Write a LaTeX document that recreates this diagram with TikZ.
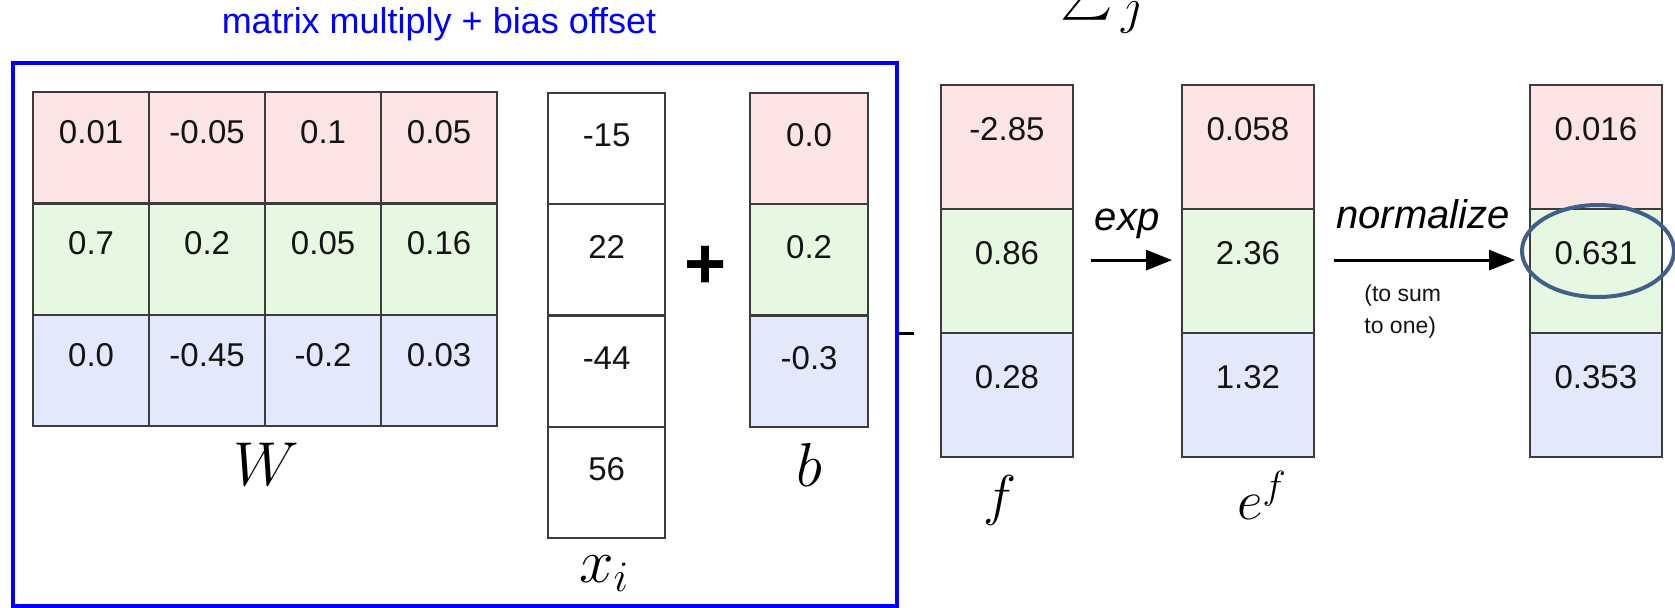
\RequirePackage{fix-cm}
\documentclass[tikz,border=0pt]{standalone}
\usepackage{exscale}
\usepackage{fontspec}
\newfontfamily\arial{Liberation Sans}
\usetikzlibrary{arrows.meta,shapes.geometric}
\definecolor{pinkc}{RGB}{252,228,228}
\definecolor{greenc}{RGB}{230,248,226}
\definecolor{bluec}{RGB}{227,232,250}
\definecolor{gridc}{RGB}{60,60,60}
\definecolor{txtc}{RGB}{20,20,20}
\definecolor{ellc}{RGB}{64,96,138}
\definecolor{boxblue}{RGB}{0,0,255}
\tikzset{
  cellbase/.style={draw=gridc, line width=1.1pt, inner sep=0pt, anchor=north west,
    font=\arial\fontsize{16.5}{16.5}\selectfont, text=txtc},
  wcell/.style={cellbase, minimum width=58pt, text height=25.65pt, text depth=30pt},
  xcell/.style={cellbase, minimum width=58.5pt, text height=26.9pt, text depth=28.7pt},
  bcell/.style={cellbase, minimum width=59pt, text height=26.9pt, text depth=28.7pt},
  rcell/.style={cellbase, minimum width=65.75pt, text height=27.9pt, text depth=34.1pt},
  mlabel/.style={inner sep=0pt, font=\fontsize{31}{31}\selectfont},
  flabel/.style={inner sep=0pt, font=\fontsize{28}{28}\selectfont},
  oplabel/.style={inner sep=0pt, font=\arial\itshape\fontsize{20}{20}\selectfont},
  arr/.style={line width=1.5pt, -{Triangle[length=13pt,width=10pt]}},
}
\begin{document}
\begin{tikzpicture}[x=0.5pt,y=-0.5pt]
\useasboundingbox (0,0) rectangle (1675,607);
\clip (0,0) rectangle (1675,607);
% title and box
\node[inner sep=0pt, text=boxblue, font=\arial\fontsize{18}{18}\selectfont] (title) at (439,24) {matrix multiply + bias offset};
\node[draw=boxblue, line width=2pt, inner sep=0pt, anchor=north west, minimum width=442pt, minimum height=271.5pt] (mmbox) at (11,61) {};
% W matrix
\node[wcell, fill=pinkc] (W11) at (32,91) {0.01};
\node[wcell, fill=pinkc] (W12) at (148,91) {-0.05};
\node[wcell, fill=pinkc] (W13) at (264,91) {0.1};
\node[wcell, fill=pinkc] (W14) at (380,91) {0.05};
\node[wcell, fill=greenc] (W21) at (32,202.3) {0.7};
\node[wcell, fill=greenc] (W22) at (148,202.3) {0.2};
\node[wcell, fill=greenc] (W23) at (264,202.3) {0.05};
\node[wcell, fill=greenc] (W24) at (380,202.3) {0.16};
\node[wcell, fill=bluec] (W31) at (32,313.6) {0.0};
\node[wcell, fill=bluec] (W32) at (148,313.6) {-0.45};
\node[wcell, fill=bluec] (W33) at (264,313.6) {-0.2};
\node[wcell, fill=bluec] (W34) at (380,313.6) {0.03};
\node[mlabel, anchor=base] (Wl) at (266,485) {$W$};
% x vector
\node[xcell, fill=white] (x1) at (547,92) {-15};
\node[xcell, fill=white] (x2) at (547,203.25) {22};
\node[xcell, fill=white] (x3) at (547,314.5) {-44};
\node[xcell, fill=white] (x4) at (547,425.75) {56};
\node[mlabel, anchor=base] (xl) at (604,582) {$x_i$};
% plus
\node[inner sep=0pt, font=\arial\bfseries\fontsize{36}{36}\selectfont] (plus) at (706,267) {+};
% b vector
\node[bcell, fill=pinkc] (b1) at (749,92) {0.0};
\node[bcell, fill=greenc] (b2) at (749,203.25) {0.2};
\node[bcell, fill=bluec] (b3) at (749,314.5) {-0.3};
\node[mlabel, anchor=base] (bl) at (809,486) {$b$};
% dash at box edge
\coordinate (dashs) at (mmbox.east |- 0,333);
\draw[line width=1.5pt] (dashs) -- ++(15,0);
% f vector
\node[rcell, fill=pinkc] (f1) at (940,84) {-2.85};
\node[rcell, fill=greenc] (f2) at (940,208) {0.86};
\node[rcell, fill=bluec] (f3) at (940,332) {0.28};
\node[flabel, anchor=base] (fl) at (1000,514) {$f$};
% e^f vector
\node[rcell, fill=pinkc] (e1) at (1181,84) {0.058};
\node[rcell, fill=greenc] (e2) at (1181,208) {2.36};
\node[rcell, fill=bluec] (e3) at (1181,332) {1.32};
\node[flabel, anchor=base] (el) at (1262,519) {$e^f$};
% output vector
\node[rcell, fill=pinkc] (o1) at (1529,84) {0.016};
\node[rcell, fill=greenc] (o2) at (1529,208) {0.631};
\node[rcell, fill=bluec] (o3) at (1529,332) {0.353};
% arrows and labels
\draw[arr, shorten <=8.5pt, shorten >=4.5pt] ([yshift=5.5pt]f2.east) -- ([yshift=5.5pt]e2.west);
\node[oplabel, anchor=base] (expl) at (1127,230) {exp};
\draw[arr, shorten <=9.5pt, shorten >=7pt] ([yshift=5.5pt]e2.east) -- ([yshift=5.5pt]o2.west);
\node[oplabel, anchor=base] (norml) at (1423,228) {normalize};
\node[inner sep=0pt, anchor=west, align=left, font=\arial\fontsize{11.5}{16}\selectfont, text=txtc] (sumtxt) at (1364,312) {(to sum\\to one)};
% highlight ellipse
\node[draw=ellc, line width=2pt, ellipse, inner sep=0pt, minimum width=76pt, minimum height=46pt] (hl) at (1598,251) {};
% cropped sum at top
\node[inner sep=0pt, anchor=base west, font=\fontsize{36}{36}\selectfont] (sig) at (1060,13) {$\sum_{\,j}$};
\end{tikzpicture}
\end{document}
